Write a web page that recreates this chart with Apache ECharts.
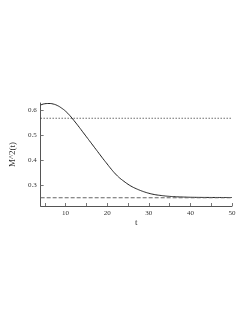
<!DOCTYPE html>
<html><head><meta charset="utf-8">
<script src="https://cdn.jsdelivr.net/npm/echarts@6/dist/echarts.min.js"></script>
<style>html,body{margin:0;padding:0;background:#fff}#c{width:252px;height:326px}</style>
</head><body><div id="c"></div>
<script>
var tValues = [4,5,6,7,8,9,10,11,12,13,14,15,16,17,18,19,20,21,22,23,24,25,26,27,28,29,30,31,32,33,34,35,36,37,38,39,40,42,44,46,48,50];
var mValues = [0.620,0.625,0.626,0.624,0.618,0.608,0.595,0.578,0.558,0.537,0.515,0.493,0.471,0.449,0.427,0.405,0.384,0.363,0.344,0.328,0.315,0.303,0.293,0.285,0.278,0.272,0.267,0.263,0.260,0.258,0.256,0.2545,0.2535,0.2525,0.252,0.2515,0.251,0.2505,0.2502,0.2501,0.25,0.25];
var dottedLevel = 0.567;
var dashedLevel = 0.249;
var xTickLabels = [10,20,30,40,50];
var xTicks = [5,10,15,20,25,30,35,40,45,50];
var yTickLabels = [0.3,0.4,0.5,0.6];
var xName = 't';
var yName = 'M^2(t)';

var curve = tValues.map(function(t,i){return [t,mValues[i]];});
var font = 'Liberation Serif';
var chart = echarts.init(document.getElementById('c'));
chart.setOption({
  animation:false,
  grid:{left:32,right:20,top:103,bottom:120,containLabel:false},
  xAxis:{type:'value',min:4,max:50,name:xName,nameLocation:'middle',nameGap:11,
    nameTextStyle:{fontFamily:font,fontSize:9,color:'#333'},
    axisLine:{lineStyle:{color:'#555',width:1}},
    axisTick:{inside:true,length:3,customValues:xTicks,lineStyle:{color:'#777'}},
    axisLabel:{customValues:xTickLabels,fontFamily:font,fontSize:7,color:'#333',margin:4},
    splitLine:{show:false}},
  yAxis:{type:'value',min:0.216,max:0.628,name:yName,nameLocation:'middle',nameGap:16,nameRotate:90,
    nameTextStyle:{fontFamily:font,fontSize:9,color:'#333'},
    axisLine:{show:true,lineStyle:{color:'#555',width:1}},
    axisTick:{show:true,inside:true,length:3,customValues:yTickLabels,lineStyle:{color:'#777'}},
    axisLabel:{customValues:yTickLabels,fontFamily:font,fontSize:7,color:'#333',margin:4,
      formatter:function(v){return v.toFixed(1);}},
    splitLine:{show:false}},
  series:[
    {type:'line',data:curve,showSymbol:false,smooth:true,lineStyle:{color:'#222',width:1},z:3},
    {type:'line',data:[[4,dottedLevel],[50,dottedLevel]],showSymbol:false,lineStyle:{color:'#222',width:1.2,type:[1,2]}},
    {type:'line',data:[[4,dashedLevel],[50,dashedLevel]],showSymbol:false,lineStyle:{color:'#666',width:1.2,type:[4,2]}}
  ]
});
</script></body></html>
